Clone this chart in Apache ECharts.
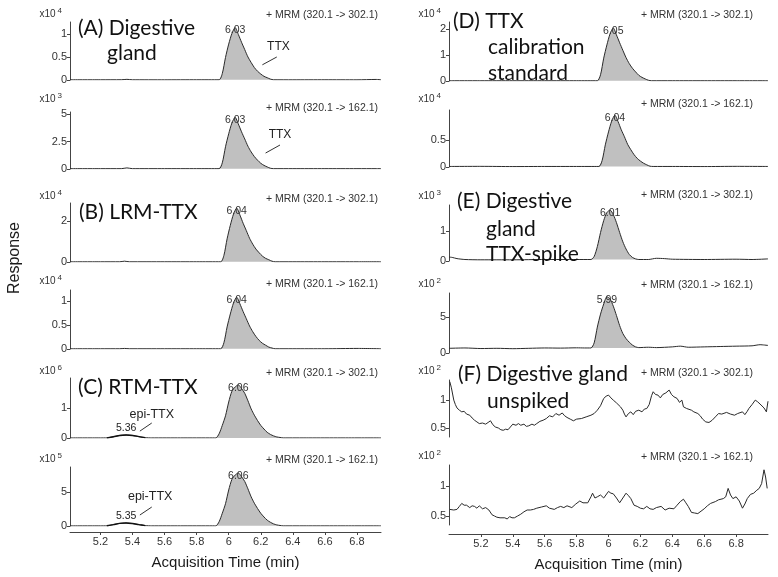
<!DOCTYPE html>
<html><head><meta charset="utf-8">
<script src="https://cdn.jsdelivr.net/npm/echarts@6/dist/echarts.min.js"></script>
<style>html,body{margin:0;padding:0;background:#fff}#c{width:778px;height:577px}</style>
</head><body><div id="c"></div>
<script>
// ---------------- DATA ----------------
const timeTicks = [5.2, 5.4, 5.6, 5.8, 6.0, 6.2, 6.4, 6.6, 6.8];

// (A) Digestive gland  302.1 (x10^4)
const aTopT = [5.01,5.20,5.33,5.365,5.40,5.60,5.80,5.94,5.96,5.98,6.00,6.02,6.04,6.06,6.08,6.10,6.12,6.14,6.16,6.18,6.20,6.22,6.24,6.26,6.28,6.40,6.60,6.80,6.92,6.95];
const aTopV = [0.005,0.005,0.006,0.014,0.005,0.004,0.005,0.005,0.14,0.49,0.78,1.01,1.14,0.99,0.82,0.66,0.50,0.38,0.27,0.19,0.13,0.08,0.05,0.02,0.005,0.004,0.005,0.004,0.012,0.005];
// (A) 162.1 (x10^3)
const aBotT = aTopT;
const aBotV = [0.03,0.03,0.03,0.10,0.03,0.03,0.03,0.03,0.56,2.02,3.20,4.18,4.70,4.09,3.38,2.73,2.07,1.55,1.13,0.80,0.52,0.33,0.19,0.07,0.03,0.03,0.03,0.03,0.03,0.03];
// (B) LRM-TTX 302.1 (x10^4)
const bTopT = [5.01,5.20,5.32,5.35,5.38,5.60,5.80,5.95,5.97,5.99,6.01,6.03,6.05,6.07,6.09,6.11,6.13,6.15,6.17,6.19,6.21,6.23,6.25,6.27,6.29,6.40,6.60,6.80,6.95];
const bTopV = [0.01,0.01,0.01,0.04,0.01,0.01,0.01,0.01,0.32,1.13,1.79,2.34,2.63,2.29,1.89,1.53,1.16,0.87,0.63,0.45,0.29,0.18,0.11,0.04,0.01,0.01,0.01,0.01,0.01];
// (B) 162.1 (x10^4)
const bBotT = bTopT;
const bBotV = [0.005,0.005,0.005,0.012,0.005,0.005,0.005,0.005,0.13,0.46,0.73,0.96,1.08,0.94,0.78,0.63,0.48,0.36,0.26,0.18,0.12,0.08,0.04,0.02,0.005,0.005,0.005,0.012,0.005];
// (C) RTM-TTX 302.1 (x10^6)
const cTopT = [5.01,5.20,5.24,5.28,5.32,5.36,5.40,5.44,5.48,5.52,5.70,5.90,5.92,5.94,5.96,5.98,6.00,6.02,6.04,6.06,6.08,6.10,6.12,6.14,6.16,6.18,6.20,6.22,6.24,6.26,6.28,6.30,6.32,6.34,6.50,6.70,6.95];
const cTopV = [0.003,0.003,0.005,0.04,0.085,0.10,0.085,0.045,0.012,0.003,0.003,0.003,0.003,0.14,0.42,0.74,1.20,1.56,1.70,1.77,1.65,1.49,1.24,0.97,0.76,0.58,0.42,0.30,0.19,0.12,0.07,0.035,0.018,0.003,0.003,0.003,0.003];
// (C) 162.1 (x10^5)
const cBotT = cTopT;
const cBotV = [0.02,0.02,0.03,0.20,0.38,0.45,0.36,0.20,0.06,0.02,0.02,0.02,0.02,0.62,1.87,3.28,5.30,6.86,7.49,7.80,7.25,6.55,5.46,4.29,3.35,2.57,1.87,1.33,0.86,0.55,0.31,0.16,0.08,0.02,0.02,0.02,0.02];
// (D) TTX calibration standard 302.1 (x10^4)
const dTopT = [5.00,5.20,5.40,5.60,5.80,5.93,5.95,5.97,5.99,6.01,6.03,6.05,6.07,6.09,6.11,6.13,6.15,6.17,6.19,6.21,6.23,6.25,6.27,6.40,6.60,6.80,7.00];
const dTopV = [0.01,0.01,0.01,0.01,0.01,0.01,0.24,0.88,1.39,1.82,2.04,1.77,1.47,1.18,0.90,0.67,0.49,0.35,0.22,0.14,0.08,0.03,0.01,0.01,0.01,0.01,0.01];
// (D) 162.1 (x10^4)
const dBotT = [5.00,5.20,5.40,5.60,5.80,5.94,5.96,5.98,6.00,6.02,6.04,6.06,6.08,6.10,6.12,6.14,6.16,6.18,6.20,6.22,6.24,6.26,6.28,6.40,6.60,6.80,7.00];
const dBotV = [0.01,0.012,0.008,0.01,0.01,0.01,0.12,0.41,0.65,0.85,0.96,0.84,0.69,0.56,0.42,0.32,0.23,0.16,0.11,0.07,0.04,0.015,0.01,0.01,0.008,0.012,0.01];
// (E) Digestive gland TTX-spike 302.1 (x10^3)
const eTopT = [5.00,5.02,5.05,5.10,5.20,5.40,5.60,5.80,5.89,5.91,5.93,5.95,5.97,5.99,6.01,6.03,6.05,6.07,6.09,6.11,6.13,6.15,6.17,6.19,6.25,6.30,6.35,6.40,6.60,6.80,6.90,7.00];
const eTopV = [0.13,0.12,0.08,0.05,0.04,0.04,0.05,0.05,0.05,0.15,0.48,0.95,1.35,1.62,1.70,1.55,1.28,0.95,0.64,0.40,0.22,0.12,0.07,0.05,0.05,0.09,0.08,0.06,0.05,0.06,0.05,0.07];
// (E) 162.1 (x10^2)
const eBotT = [5.00,5.10,5.20,5.30,5.40,5.50,5.60,5.70,5.80,5.85,5.89,5.91,5.93,5.95,5.97,5.99,6.01,6.03,6.05,6.07,6.09,6.11,6.13,6.15,6.17,6.19,6.25,6.30,6.40,6.45,6.50,6.60,6.70,6.80,6.90,6.95,7.00];
const eBotV = [0.65,0.70,0.62,0.65,0.60,0.65,0.70,0.68,0.72,0.70,0.70,1.40,3.60,5.40,6.80,7.80,7.50,6.50,5.20,3.80,2.70,2.00,1.50,1.10,0.85,0.75,0.80,0.75,0.85,0.95,0.80,0.85,0.90,0.95,1.00,1.15,1.05];
// (F) Digestive gland unspiked 302.1 (x10^2)
const fTopT = [5.005,5.015,5.03,5.04,5.05,5.065,5.08,5.095,5.11,5.13,5.145,5.16,5.175,5.19,5.21,5.23,5.245,5.26,5.275,5.29,5.31,5.325,5.34,5.355,5.37,5.385,5.40,5.42,5.435,5.45,5.47,5.485,5.50,5.52,5.535,5.55,5.57,5.59,5.61,5.63,5.65,5.67,5.69,5.71,5.725,5.74,5.76,5.78,5.80,5.83,5.86,5.89,5.91,5.93,5.95,5.97,5.985,6.00,6.015,6.03,6.05,6.075,6.09,6.10,6.11,6.125,6.14,6.155,6.17,6.19,6.21,6.225,6.24,6.255,6.27,6.28,6.295,6.31,6.325,6.34,6.36,6.38,6.395,6.41,6.43,6.445,6.46,6.47,6.49,6.52,6.535,6.56,6.575,6.59,6.61,6.63,6.65,6.67,6.69,6.71,6.74,6.765,6.79,6.81,6.84,6.855,6.87,6.88,6.90,6.92,6.935,6.95,6.96,6.975,6.99,7.00];
const fTopV = [1.33,1.22,1.00,0.92,0.86,0.82,0.79,0.80,0.75,0.73,0.68,0.64,0.61,0.58,0.59,0.57,0.60,0.63,0.56,0.52,0.50,0.47,0.46,0.48,0.47,0.52,0.57,0.55,0.58,0.55,0.57,0.53,0.54,0.57,0.55,0.58,0.62,0.64,0.67,0.72,0.70,0.76,0.73,0.77,0.72,0.69,0.66,0.63,0.66,0.67,0.70,0.73,0.76,0.82,0.90,1.03,1.07,1.09,1.04,1.00,0.95,0.88,0.82,0.75,0.70,0.76,0.79,0.74,0.80,0.82,0.79,0.84,0.85,0.92,1.08,1.15,1.10,1.09,1.04,1.10,1.13,1.18,1.10,1.06,1.03,0.96,1.00,0.88,0.85,0.82,0.79,0.76,0.72,0.66,0.61,0.60,0.64,0.70,0.76,0.75,0.78,0.75,0.73,0.76,0.79,0.74,0.80,0.85,0.92,1.00,0.97,0.93,0.91,0.86,0.79,0.98];
// (F) 162.1 (x10^2)
const fBotT = [5.005,5.03,5.05,5.065,5.08,5.095,5.11,5.13,5.145,5.16,5.175,5.19,5.21,5.23,5.25,5.27,5.285,5.30,5.32,5.35,5.365,5.38,5.395,5.41,5.43,5.45,5.47,5.49,5.51,5.53,5.55,5.58,5.61,5.63,5.66,5.68,5.70,5.72,5.74,5.77,5.795,5.82,5.84,5.87,5.89,5.90,5.915,5.93,5.95,5.97,5.98,6.00,6.015,6.03,6.05,6.07,6.09,6.11,6.125,6.14,6.16,6.18,6.20,6.22,6.24,6.26,6.28,6.30,6.33,6.355,6.38,6.41,6.43,6.45,6.47,6.485,6.50,6.52,6.54,6.56,6.58,6.60,6.62,6.64,6.67,6.69,6.72,6.735,6.75,6.765,6.78,6.80,6.82,6.84,6.855,6.87,6.89,6.91,6.93,6.945,6.96,6.975,6.985,6.995];
const fBotV = [0.61,0.60,0.61,0.66,0.71,0.68,0.68,0.64,0.67,0.66,0.63,0.67,0.62,0.64,0.60,0.52,0.50,0.48,0.47,0.47,0.45,0.49,0.47,0.47,0.50,0.53,0.57,0.60,0.60,0.61,0.63,0.65,0.67,0.63,0.61,0.64,0.66,0.64,0.67,0.64,0.70,0.75,0.72,0.72,0.82,0.88,0.80,0.82,0.85,0.80,0.79,0.91,0.88,0.87,0.80,0.72,0.80,0.88,0.84,0.79,0.68,0.66,0.63,0.62,0.66,0.62,0.61,0.64,0.66,0.60,0.63,0.62,0.68,0.74,0.78,0.72,0.66,0.56,0.55,0.54,0.58,0.62,0.67,0.71,0.74,0.77,0.79,0.82,0.96,0.85,0.79,0.82,0.75,0.63,0.70,0.79,0.86,0.88,0.93,0.96,1.04,1.27,1.15,0.96];

// peak retention-time labels
const peakLabelsA = ['6.03', '6.03'];
const peakLabelsB = ['6.04', '6.04'];
const peakLabelsC = ['6.06', '6.06'];
const peakLabelsD = ['6.05', '6.04'];
const peakLabelsE = ['6.01', '5.99'];
const epiLabelsC = ['5.36', '5.35'];
const exponents = [4, 3, 4, 4, 6, 5, 4, 4, 3, 2, 2, 2];
const mrmTop = '+ MRM (320.1 -> 302.1)';
const mrmBot = '+ MRM (320.1 -> 162.1)';

// ---------------- LAYOUT ----------------
const FONT = 'Liberation Sans, Arial, sans-serif';
const TFONT = 'Lato, Carlito, Calibri, sans-serif';
const L = {left: 70, width: 311, xmin: 5.01, xmax: 6.95};
const R = {left: 449, width: 319, xmin: 5.0, xmax: 7.0};

const panels = [
  {col: L, top: 22, bot: 80, ymin: 0, ymax: 1.26, ticks: [0, 0.5, 1], ny: 15, T: aTopT, V: aTopV, peak: [5.94, 6.28], origin: 0.005, lbl: [6.04, 1.14, peakLabelsA[0]], smooth: 0.25},
  {col: L, top: 112, bot: 169, ymin: 0, ymax: 5.18, ticks: [0, 2.5, 5], ny: 100, T: aBotT, V: aBotV, peak: [5.94, 6.28], origin: 0.03, lbl: [6.04, 4.70, peakLabelsA[1]], smooth: 0.25},
  {col: L, top: 203, bot: 262, ymin: 0, ymax: 2.88, ticks: [0, 2], ny: 197, T: bTopT, V: bTopV, peak: [5.95, 6.29], origin: 0.01, lbl: [6.05, 2.63, peakLabelsB[0]], smooth: 0.25},
  {col: L, top: 290, bot: 349, ymin: 0, ymax: 1.23, ticks: [0, 0.5, 1], ny: 282, T: bBotT, V: bBotV, peak: [5.95, 6.29], origin: 0.005, lbl: [6.05, 1.08, peakLabelsB[1]], smooth: 0.25},
  {col: L, top: 378, bot: 438, ymin: 0, ymax: 2.0, ticks: [0, 1], ny: 373, T: cTopT, V: cTopV, peak: [5.92, 6.34], origin: 0.003, lbl: [6.06, 1.77, peakLabelsC[0]], smooth: 0.25, epi: [5.24, 5.48]},
  {col: L, top: 467, bot: 526, ymin: 0, ymax: 8.68, ticks: [0, 5], ny: 460, T: cBotT, V: cBotV, peak: [5.92, 6.34], origin: 0.02, lbl: [6.06, 7.80, peakLabelsC[1]], smooth: 0.25, epi: [5.24, 5.48], xaxis: 6},
  {col: R, top: 22, bot: 81, ymin: 0, ymax: 2.27, ticks: [0, 1, 2], ny: 15, T: dTopT, V: dTopV, peak: [5.93, 6.27], origin: 0.01, lbl: [6.03, 2.04, peakLabelsD[0]], smooth: 0.25},
  {col: R, top: 110, bot: 167, ymin: 0, ymax: 1.056, ticks: [0, 0.5], ny: 100, T: dBotT, V: dBotV, peak: [5.94, 6.28], origin: 0.01, lbl: [6.04, 0.96, peakLabelsD[1]], smooth: 0.25},
  {col: R, top: 205, bot: 261, ymin: 0, ymax: 1.87, ticks: [0, 1], ny: 197, T: eTopT, V: eTopV, peak: [5.89, 6.19], origin: 0.05, lbl: [6.01, 1.70, peakLabelsE[0]], smooth: 0.25},
  {col: R, top: 293, bot: 353, ymin: 0, ymax: 8.33, ticks: [0, 5], ny: 285, T: eBotT, V: eBotV, peak: [5.89, 6.19], origin: 0.7, lbl: [5.99, 7.80, peakLabelsE[1]], smooth: 0.25},
  {col: R, top: 380, bot: 437, ymin: 0.34, ymax: 1.36, ticks: [0.5, 1], ny: 372, T: fTopT, V: fTopV, smooth: false},
  {col: R, top: 465, bot: 525, ymin: 0.35, ymax: 1.35, ticks: [0.5, 1], ny: 457, T: fBotT, V: fBotV, smooth: false, xaxis: 9}
];

const pairs = (T, V) => T.map((t, i) => [t, V[i]]);
const grid = [], xAxis = [], yAxis = [], series = [];

panels.forEach((p, i) => {
  grid.push({left: p.col.left, width: p.col.width, top: p.top, height: p.bot - p.top});
  const showX = p.xaxis !== undefined;
  xAxis.push({
    type: 'value', gridIndex: i, min: p.col.xmin, max: p.col.xmax, show: showX, offset: p.xaxis || 0,
    axisLine: {show: true, onZero: false, lineStyle: {color: '#444', width: 1}},
    axisTick: {show: true, length: 3, customValues: timeTicks, lineStyle: {color: '#444'}},
    axisLabel: {customValues: timeTicks, fontSize: 11, color: '#333', margin: 4, fontFamily: FONT},
    splitLine: {show: false},
    name: showX ? 'Acquisition Time (min)' : '', nameLocation: 'middle', nameGap: 23,
    nameTextStyle: {fontSize: 15, color: '#1a1a1a', fontFamily: FONT}
  });
  yAxis.push({
    type: 'value', gridIndex: i, min: p.ymin, max: p.ymax,
    axisLine: {show: true, lineStyle: {color: '#444', width: 1}},
    axisTick: {show: true, length: 3, customValues: p.ticks, lineStyle: {color: '#444'}},
    axisLabel: {customValues: p.ticks, fontSize: 11, color: '#333', margin: 3, fontFamily: FONT},
    splitLine: {show: false},
    name: '{a|x10}{b|' + exponents[i] + '}', nameLocation: 'end', nameGap: Math.max(0, p.top - p.ny - 6),
    nameTextStyle: {align: 'right', padding: [0, 8, 0, 0],
      rich: {a: {fontSize: 10, color: '#333', fontFamily: FONT},
             b: {fontSize: 8, color: '#333', fontFamily: FONT, verticalAlign: 'top', padding: [0, 0, 6, 2]}}}
  });
  const all = pairs(p.T, p.V);
  if (p.peak) {
    series.push({
      type: 'line', xAxisIndex: i, yAxisIndex: i, showSymbol: false, silent: true, smooth: p.smooth, z: 1,
      data: all.filter(d => d[0] >= p.peak[0] - 1e-9 && d[0] <= p.peak[1] + 1e-9),
      lineStyle: {width: 0}, areaStyle: {color: '#c0c0c0', opacity: 1, origin: p.origin}
    });
  }
  const mp = [];
  if (p.lbl) mp.push({coord: [p.lbl[0], p.lbl[1]], value: p.lbl[2], symbolSize: 0,
    label: {show: true, position: 'inside', offset: [0, 3], formatter: p.lbl[2], fontSize: 10.5, color: '#333', fontFamily: FONT}});
  series.push({
    type: 'line', xAxisIndex: i, yAxisIndex: i, showSymbol: false, silent: true, smooth: p.smooth, z: 2,
    data: all, lineStyle: {color: '#2a2a2a', width: 1},
    markPoint: {symbol: 'rect', symbolSize: 0, silent: true, animation: false, data: mp}
  });
  if (p.epi) {
    series.push({
      type: 'line', xAxisIndex: i, yAxisIndex: i, showSymbol: false, silent: true, smooth: 0.3, z: 3,
      data: all.filter(d => d[0] >= p.epi[0] && d[0] <= p.epi[1]), lineStyle: {color: '#111', width: 1.4}
    });
  }
});

// annotations (data coordinates)
function ann(idx, marks, lines) {
  series.push({
    type: 'line', xAxisIndex: idx, yAxisIndex: idx, data: [], silent: true, z: 5,
    markPoint: {symbol: 'rect', symbolSize: 0, animation: false,
      data: marks.map(m => ({coord: [m[0], m[1]], symbolSize: 0,
        label: {show: true, position: 'inside', formatter: m[2], fontSize: m[3], color: '#222', fontFamily: FONT}}))},
    markLine: {symbol: ['none', 'none'], animation: false, silent: true, label: {show: false},
      lineStyle: {color: '#333', width: 1, type: 'solid'},
      data: lines.map(l => [{coord: [l[0], l[1]]}, {coord: [l[2], l[3]]}])}
  });
}
ann(0, [[6.31, 0.72, 'TTX', 12]], [[6.21, 0.33, 6.30, 0.50]]);
ann(1, [[6.32, 3.09, 'TTX', 12]], [[6.23, 1.45, 6.32, 2.18]]);
ann(4, [[5.52, 0.77, 'epi-TTX', 12.5], [5.36, 0.33, epiLabelsC[0], 10.5]], [[5.446, 0.23, 5.52, 0.50]]);
ann(5, [[5.51, 4.26, 'epi-TTX', 12.5], [5.36, 1.47, epiLabelsC[1], 10.5]], [[5.446, 1.62, 5.52, 2.79]]);

// text graphics
function gText(x, y, text, font, align, color) {
  return {type: 'text', x: x, y: y, z: 100,
    style: {text: text, font: font, fill: color || '#111', textAlign: align || 'left', textVerticalAlign: 'middle', align: align || 'left', verticalAlign: 'middle'}};
}
const TF = '21px ' + TFONT;
const MF = '10.5px ' + FONT;
const graphic = [
  gText(78, 28, '(A) Digestive', TF), gText(107, 53, 'gland', TF),
  gText(79, 212, '(B) LRM-TTX', TF),
  gText(78, 387, '(C) RTM-TTX', TF),
  gText(453, 21, '(D) TTX', TF), gText(488, 47, 'calibration', TF), gText(488, 73, 'standard', TF),
  gText(457, 201, '(E) Digestive', TF), gText(486, 229, 'gland', TF), gText(486, 254, 'TTX-spike', TF),
  gText(458, 374, '(F) Digestive gland', TF), gText(487, 401, 'unspiked', TF),
  gText(378, 15, mrmTop, MF, 'right', '#333'), gText(378, 108, mrmBot, MF, 'right', '#333'),
  gText(378, 199, mrmTop, MF, 'right', '#333'), gText(378, 284, mrmBot, MF, 'right', '#333'),
  gText(378, 373, mrmTop, MF, 'right', '#333'), gText(378, 460, mrmBot, MF, 'right', '#333'),
  gText(753, 15, mrmTop, MF, 'right', '#333'), gText(753, 104, mrmBot, MF, 'right', '#333'),
  gText(753, 195, mrmTop, MF, 'right', '#333'), gText(753, 285, mrmBot, MF, 'right', '#333'),
  gText(753, 373, mrmTop, MF, 'right', '#333'), gText(753, 457, mrmBot, MF, 'right', '#333'),
  {type: 'text', x: 15, y: 258, rotation: Math.PI / 2, z: 100,
   style: {text: 'Response', font: '16px ' + FONT, fill: '#1a1a1a', textAlign: 'center', textVerticalAlign: 'middle', align: 'center', verticalAlign: 'middle'}}
];

const chart = echarts.init(document.getElementById('c'), null, {renderer: 'canvas'});
chart.setOption({
  animation: false,
  backgroundColor: '#fff',
  textStyle: {fontFamily: FONT},
  grid: grid, xAxis: xAxis, yAxis: yAxis, series: series, graphic: graphic
});
</script></body></html>
